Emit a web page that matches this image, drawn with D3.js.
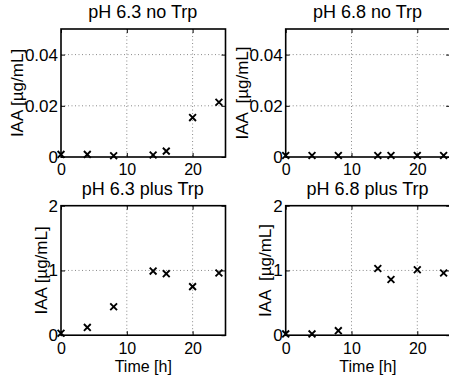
<!DOCTYPE html>
<html>
<head>
<meta charset="utf-8">
<script src="https://cdn.jsdelivr.net/npm/d3@7"></script>
<style>
  html, body { margin: 0; padding: 0; background: #fff; }
  svg { display: block; font-family: "Liberation Sans", Arial, sans-serif; }
</style>
</head>
<body>
<div id="chart"></div>
<script>
// sample times (h)
const timeH = [0, 4, 8, 14, 16, 20, 24];
// IAA readings (µg/mL) per condition
const iaa63NoTrp = [0.001, 0.001, 0.0005, 0.0008, 0.0023, 0.0154, 0.0214];
const iaa68NoTrp = [0.0006, 0.0006, 0.0006, 0.0006, 0.0006, 0.0006, 0.0006];
const iaa63PlusTrp = [0.03, 0.12, 0.44, 0.99, 0.95, 0.75, 0.96];
const iaa68PlusTrp = [0.02, 0.02, 0.07, 1.03, 0.86, 1.01, 0.96];

const panelTitles = ['pH 6.3 no Trp', 'pH 6.8 no Trp', 'pH 6.3 plus Trp', 'pH 6.8 plus Trp'];
const xTicks = [0, 10, 20];
const yTicksNoTrp = [0, 0.02, 0.04];
const yTicksPlusTrp = [0, 1, 2];
const yLabels = ['IAA [µg/mL]', 'IAA  [µg/mL]'];
const xLabel = 'Time [h]';

const W = 449, H = 383;

let svg = d3.select('#chart').append('svg')
    .attr('width', W)
    .attr('height', H);

let panels = [
    { title: panelTitles[0], vals: iaa63NoTrp, ymax: 0.05, yt: yTicksNoTrp, lab: yLabels[0], x0: 61, top: 29, bot: 157, xlab: false },
    { title: panelTitles[1], vals: iaa68NoTrp, ymax: 0.05, yt: yTicksNoTrp, lab: yLabels[1], x0: 285.7, top: 29, bot: 157, xlab: false },
    { title: panelTitles[2], vals: iaa63PlusTrp, ymax: 2, yt: yTicksPlusTrp, lab: yLabels[0], x0: 61, top: 205.7, bot: 335.2, xlab: true },
    { title: panelTitles[3], vals: iaa68PlusTrp, ymax: 2, yt: yTicksPlusTrp, lab: yLabels[1], x0: 285.7, top: 205.7, bot: 335.2, xlab: true }
];

const plotW = 164.5;

panels.forEach(function (p) {
    let x = d3.scaleLinear().domain([0, 25]).range([p.x0, p.x0 + plotW]),
        y = d3.scaleLinear().domain([0, p.ymax]).range([p.bot, p.top]),
        g = svg.append('g');

    // dotted grid
    g.selectAll('.gx').data(xTicks.filter(d => d > 0)).enter()
        .append('line')
        .attr('x1', d => x(d)).attr('x2', d => x(d))
        .attr('y1', p.top).attr('y2', p.bot)
        .attr('stroke', '#8a8a8a').attr('stroke-width', 1)
        .attr('stroke-dasharray', '1,2.5');
    g.selectAll('.gy').data(p.yt.filter(d => d > 0 && d < p.ymax)).enter()
        .append('line')
        .attr('x1', x(0)).attr('x2', x(25))
        .attr('y1', d => y(d)).attr('y2', d => y(d))
        .attr('stroke', '#8a8a8a').attr('stroke-width', 1)
        .attr('stroke-dasharray', '1,2.5');

    // axes with inward ticks
    let xAxis = g.append('g')
        .attr('transform', `translate(0,${p.bot})`)
        .call(d3.axisBottom(x).tickValues(xTicks).tickSize(-4).tickPadding(7).tickFormat(d3.format('d')));
    let yAxis = g.append('g')
        .attr('transform', `translate(${p.x0},0)`)
        .call(d3.axisLeft(y).tickValues(p.yt).tickSize(-4).tickPadding(3).tickFormat(d => d === 0 ? '0' : String(d)));
    g.append('g')
        .attr('transform', `translate(0,${p.top})`)
        .call(d3.axisTop(x).tickValues(xTicks).tickSize(-4).tickFormat(''));
    g.append('g')
        .attr('transform', `translate(${p.x0 + plotW},0)`)
        .call(d3.axisRight(y).tickValues(p.yt).tickSize(-4).tickFormat(''));

    g.selectAll('.domain').remove();
    g.selectAll('.tick line').attr('stroke', '#000').attr('stroke-width', 1);
    g.selectAll('.tick text')
        .attr('fill', '#000')
        .style('font-family', '"Liberation Sans", Arial, sans-serif');
    xAxis.selectAll('.tick text').style('font-size', '16px');
    yAxis.selectAll('.tick text').style('font-size', '17px');

    // box
    g.append('rect')
        .attr('x', x(0)).attr('y', p.top)
        .attr('width', plotW).attr('height', p.bot - p.top)
        .attr('fill', 'none').attr('stroke', '#000').attr('stroke-width', 1.6);

    // markers
    let sz = 3.4;
    g.selectAll('.pt').data(timeH.map((t, i) => [t, p.vals[i]])).enter()
        .append('path')
        .attr('d', d => {
            let cx = x(d[0]), cy = y(d[1]);
            return `M${cx - sz},${cy - sz}L${cx + sz},${cy + sz}M${cx - sz},${cy + sz}L${cx + sz},${cy - sz}`;
        })
        .attr('stroke', '#000').attr('stroke-width', 1.9).attr('fill', 'none');

    // title
    g.append('text')
        .attr('x', x(0) + plotW / 2 - 0.5)
        .attr('y', p.top - 11)
        .attr('text-anchor', 'middle')
        .style('font-size', '18px')
        .text(p.title);

    // y label, just left of the widest tick label
    let tw = 0;
    yAxis.selectAll('.tick text').each(function () {
        tw = Math.max(tw, this.getComputedTextLength());
    });
    let lx = p.x0 - 3 - tw - 2;
    g.append('text')
        .attr('transform', `translate(${lx},${(p.top + p.bot) / 2}) rotate(-90)`)
        .attr('text-anchor', 'middle')
        .attr('xml:space', 'preserve')
        .style('white-space', 'pre')
        .style('font-size', '17px')
        .text(p.lab);

    if (p.xlab) {
        g.append('text')
            .attr('x', x(12.5))
            .attr('y', p.bot + 37)
            .attr('text-anchor', 'middle')
            .style('font-size', '16px')
            .text(xLabel);
    }
});
</script>
</body>
</html>
